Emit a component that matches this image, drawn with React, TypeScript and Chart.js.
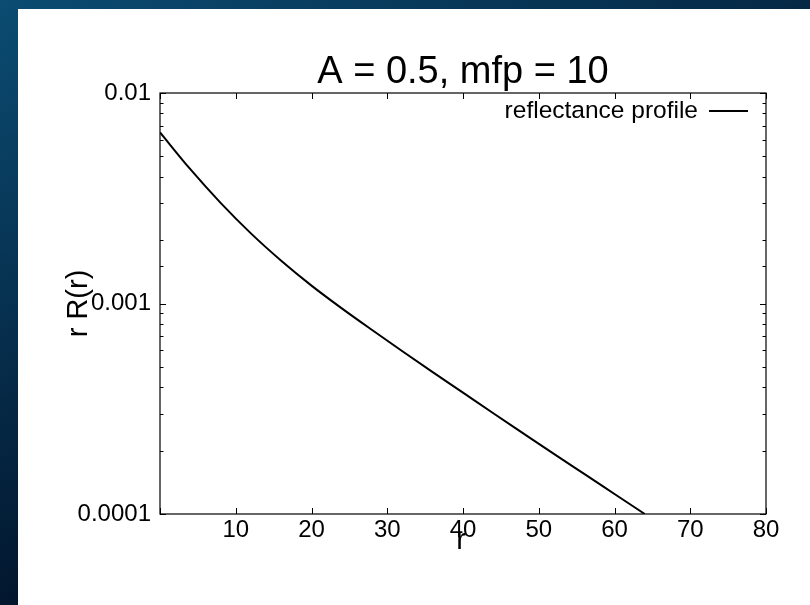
import React, { useEffect, useRef } from "react";
import { Chart, registerables } from "chart.js";

Chart.register(...registerables);

// Radial reflectance profile r·R(r) for albedo A = 0.5, mean free path 10
const radius = [0, 4, 8, 12, 16, 20, 24, 28, 32, 36, 40, 44, 48, 52, 56, 60, 64];
const reflectance = [
  0.0065, 0.004345, 0.003006, 0.002153, 0.001596, 0.001216, 0.000948, 0.000748, 0.000593,
  0.000472, 0.000377, 0.000301, 0.000241, 0.000193, 0.000155, 0.0001245, 0.0001,
];
const yTickLabels: Record<string, string> = { "-2": "0.01", "-3": "0.001", "-4": "0.0001" };

const TITLE = "A = 0.5, mfp = 10";
const X_TITLE = "r";
const Y_TITLE = "r R(r)";
const SERIES_NAME = "reflectance profile";

const FONT = "'Liberation Sans', Arial, Helvetica, sans-serif";

const framePlugin = {
  id: "gnuplotFrame",
  beforeDraw(chart: any) {
    const { ctx, width, height } = chart;
    ctx.save();
    const g = ctx.createLinearGradient(0, 0, 300, height);
    g.addColorStop(0, "#0b4c72");
    g.addColorStop(1, "#000a1e");
    ctx.fillStyle = g;
    ctx.fillRect(0, 0, width, height);
    ctx.fillStyle = "#ffffff";
    ctx.fillRect(18, 9, width - 18, height - 9);
    ctx.restore();
  },
  afterDraw(chart: any) {
    const { ctx, chartArea } = chart;
    const { left, right, top, bottom } = chartArea;
    const xs = chart.scales.x;
    const ys = chart.scales.y;
    ctx.save();
    ctx.strokeStyle = "#000";
    ctx.lineWidth = 1.2;
    ctx.strokeRect(left, top, right - left, bottom - top);

    // inward ticks on all four sides
    ctx.lineWidth = 1;
    ctx.beginPath();
    xs.ticks.forEach((t: any) => {
      const px = Math.round(xs.getPixelForValue(t.value)) + 0.5;
      ctx.moveTo(px, bottom);
      ctx.lineTo(px, bottom - 6);
      ctx.moveTo(px, top);
      ctx.lineTo(px, top + 6);
    });
    ys.ticks.forEach((t: any) => {
      const lg = Math.log10(t.value);
      const major = Math.abs(lg - Math.round(lg)) < 1e-6;
      const len = major ? 6 : 3.5;
      const py = Math.round(ys.getPixelForValue(t.value)) + 0.5;
      ctx.moveTo(left, py);
      ctx.lineTo(left + len, py);
      ctx.moveTo(right, py);
      ctx.lineTo(right - len, py);
    });
    ctx.stroke();

    // title
    ctx.fillStyle = "#000";
    ctx.textAlign = "center";
    ctx.textBaseline = "alphabetic";
    ctx.font = `38px ${FONT}`;
    ctx.fillText(TITLE, (left + right) / 2, 83);

    // axis titles
    ctx.font = `29px ${FONT}`;
    ctx.fillText(X_TITLE, (left + right) / 2 - 2, 549);
    ctx.save();
    ctx.translate(87, (top + bottom) / 2);
    ctx.rotate(-Math.PI / 2);
    ctx.fillText(Y_TITLE, 0, 0);
    ctx.restore();

    // key
    ctx.font = `24.5px ${FONT}`;
    ctx.textAlign = "right";
    ctx.textBaseline = "middle";
    ctx.fillText(SERIES_NAME, 698, 111);
    ctx.lineWidth = 2;
    ctx.beginPath();
    ctx.moveTo(709, 111);
    ctx.lineTo(748, 111);
    ctx.stroke();
    ctx.restore();
  },
};

export default function App() {
  const canvasRef = useRef<HTMLCanvasElement | null>(null);

  useEffect(() => {
    if (!canvasRef.current) return;
    const chart = new Chart(canvasRef.current, {
      type: "scatter",
      data: {
        datasets: [
          {
            label: SERIES_NAME,
            data: radius.map((r, i) => ({ x: r, y: reflectance[i] })),
            showLine: true,
            borderColor: "#000",
            borderWidth: 2,
            pointRadius: 0,
            cubicInterpolationMode: "monotone",
            fill: false,
          },
        ],
      },
      options: {
        responsive: false,
        animation: false,
        layout: { padding: { left: 0, right: 44, top: 93, bottom: 0 } },
        plugins: {
          legend: { display: false },
          title: { display: false },
          tooltip: { enabled: false },
        },
        scales: {
          x: {
            type: "linear",
            min: 0,
            max: 80,
            grid: { display: false, drawTicks: false },
            border: { display: false },
            afterFit: (s: any) => {
              s.height = 91;
            },
            ticks: {
              stepSize: 10,
              padding: 2,
              color: "#000",
              font: { family: FONT, size: 24 },
              maxRotation: 0,
              callback: (v: any) => (v === 0 ? "" : String(v)),
            },
          },
          y: {
            type: "logarithmic",
            min: 0.0001,
            max: 0.01,
            grid: { display: false, drawTicks: false },
            border: { display: false },
            afterFit: (s: any) => {
              s.width = 160;
            },
            ticks: {
              autoSkip: false,
              padding: 9,
              color: "#000",
              font: { family: FONT, size: 24 },
              callback: (v: any) => {
                const lg = Math.log10(Number(v));
                const k = Math.round(lg);
                return Math.abs(lg - k) < 1e-6 ? yTickLabels[String(k)] ?? "" : "";
              },
            },
          },
        },
      },
      plugins: [framePlugin],
    });
    return () => chart.destroy();
  }, []);

  return (
    <div style={{ position: "fixed", left: 0, top: 0, width: 810, height: 605 }}>
      <canvas ref={canvasRef} width={810} height={605} style={{ display: "block" }} />
    </div>
  );
}
